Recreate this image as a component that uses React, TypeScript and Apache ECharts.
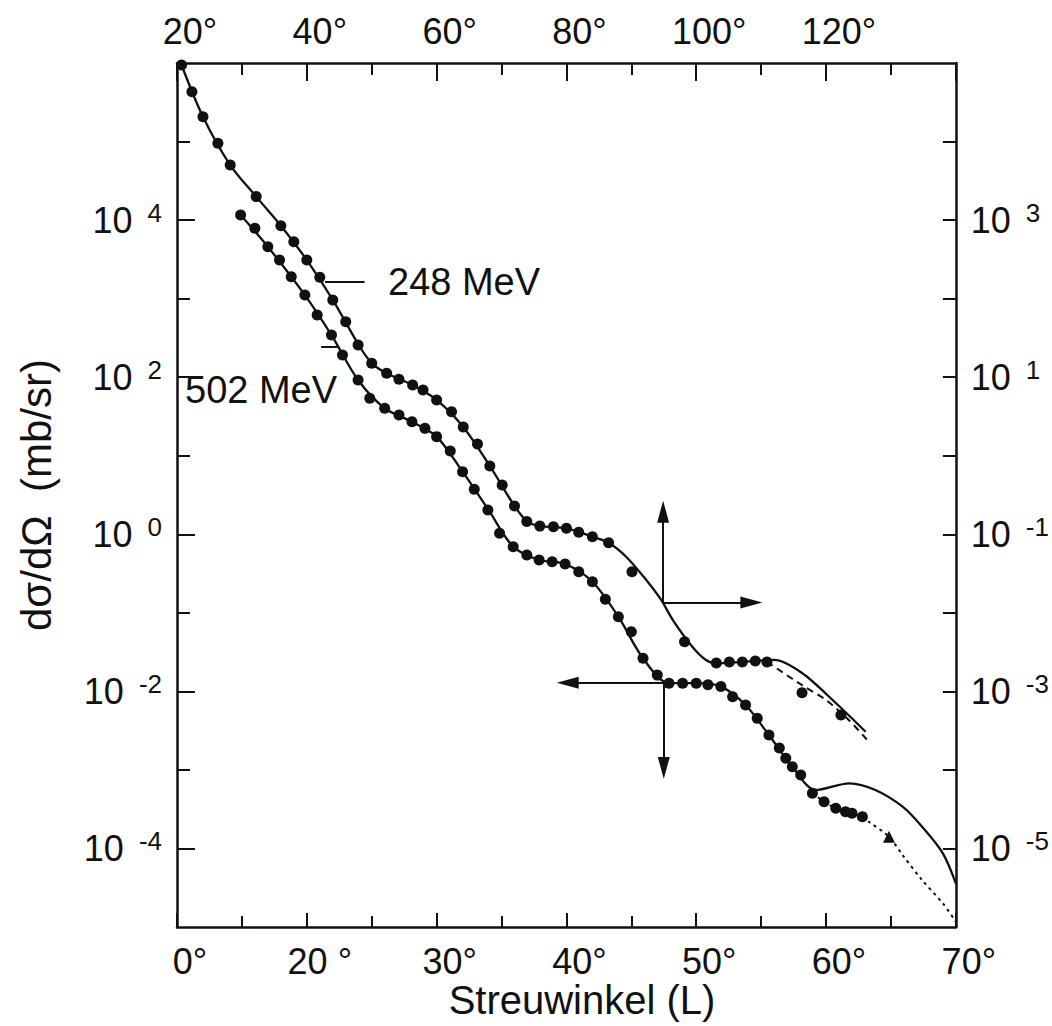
import React, { useEffect, useRef } from "react";
import * as echarts from "echarts";

const FONT = "'Liberation Sans', Arial, Helvetica, sans-serif";
const INK = "#111111";

// ---- axes ----
const bottomTickValues = [10, 20, 30, 40, 50, 60, 70];
const bottomTickLabels = ["0°", "20 °", "30°", "40°", "50°", "60°", "70°"];
const topTickValues = [20, 40, 60, 80, 100, 120];
const topTickLabels = ["20°", "40°", "60°", "80°", "100°", "120°"];
const leftExponents = [-4, -2, 0, 2, 4];
const rightExponents = [-5, -3, -1, 1, 3];

// ---- 248 MeV (top angle axis, right cross-section axis) ----
const angle248 = [20.7, 22.3, 24.0, 26.3, 28.2, 32.2, 36.0, 38.0, 40.0, 42.0, 44.0, 46.0, 47.9, 50.0, 52.3, 54.2, 56.3, 57.9, 60.0, 62.3, 64.1, 66.3, 68.2, 70.1, 72.0, 73.9, 75.9, 78.0, 80.0, 81.9, 84.0, 86.5, 90.1, 98.2, 103.1, 105.1, 107.1, 109.1, 110.9, 116.3, 122.3];
const xsec248 = [94400, 43150, 20700, 9510, 5020, 1990, 849, 531, 310, 187, 96.2, 50.9, 25.7, 15.0, 11.2, 9.40, 7.96, 6.87, 5.13, 3.64, 2.32, 1.41, 0.740, 0.424, 0.229, 0.145, 0.127, 0.125, 0.119, 0.106, 0.0931, 0.0782, 0.0334, 0.00429, 0.00230, 0.00237, 0.00237, 0.00244, 0.00237, 0.000962, 0.000500];

const fitAngle248 = [20.7, 24.0, 28.2, 32.2, 36.0, 40.0, 44.0, 48.0, 50.0, 52.3, 56.3, 60.0, 64.1, 68.2, 72.0, 74.0, 76.0, 80.0, 84.0, 86.5, 89.2, 92.3, 94.6, 96.4, 99.4, 101.5, 103.0, 107.0, 112.0, 116.3, 121.5, 126.1];
const fitXsec248 = [94400, 20700, 5020, 1990, 849, 310, 96.2, 25.7, 15.1, 11.2, 7.94, 5.13, 2.32, 0.740, 0.229, 0.145, 0.127, 0.119, 0.0931, 0.0782, 0.0518, 0.0262, 0.0146, 0.00809, 0.00371, 0.00251, 0.00228, 0.00237, 0.00251, 0.00171, 0.000711, 0.000306];

const dashAngle248 = [110.9, 116.3, 120.0, 123.5, 126.5];
const dashXsec248 = [0.00237, 0.00120, 0.000776, 0.000432, 0.000233];

// ---- 502 MeV (bottom angle axis, left cross-section axis) ----
const angle502 = [14.9, 16.0, 17.0, 17.9, 18.8, 19.85, 20.8, 21.9, 22.75, 23.95, 24.85, 26.0, 27.1, 28.1, 29.1, 30.0, 31.05, 32.0, 32.9, 33.95, 34.85, 35.9, 36.95, 37.9, 38.9, 39.9, 40.95, 42.0, 43.0, 44.0, 45.0, 45.9, 47.0, 47.9, 48.95, 50.0, 50.9, 51.9, 52.8, 53.8, 54.7, 55.6, 56.4, 56.9, 57.4, 58.05, 58.95, 59.85, 60.75, 61.5, 62.0, 62.8];
const xsec502 = [11610, 7870, 4580, 3100, 1900, 1110, 619, 344, 191, 92.0, 53.8, 40.2, 33.0, 27.1, 22.3, 17.5, 11.5, 6.27, 3.74, 2.04, 1.03, 0.695, 0.545, 0.470, 0.448, 0.419, 0.334, 0.249, 0.149, 0.0893, 0.0575, 0.0264, 0.0161, 0.0127, 0.0127, 0.0127, 0.0121, 0.0115, 0.00855, 0.00670, 0.00454, 0.00278, 0.00190, 0.00141, 0.00110, 0.000861, 0.000504, 0.000394, 0.000324, 0.000294, 0.000280, 0.000254];
const triangleAngle502 = [64.85];
const triangleXsec502 = [0.000141];

const fitAngle502 = [14.9, 17.0, 19.85, 21.9, 23.95, 26.0, 28.1, 30.0, 32.0, 34.0, 35.9, 37.9, 39.9, 42.0, 44.0, 45.9, 47.9, 50.0, 51.9, 53.8, 55.6, 57.4, 59.2, 61.8, 63.8, 65.9, 67.4, 69.0, 70.0];
const fitXsec502 = [11610, 4580, 1110, 344, 92.0, 40.2, 27.1, 17.5, 6.27, 2.04, 0.695, 0.470, 0.419, 0.249, 0.0893, 0.0264, 0.0127, 0.0127, 0.0115, 0.00670, 0.00278, 0.00110, 0.000555, 0.000675, 0.000555, 0.000340, 0.000189, 0.0000867, 0.0000360];

const dashAngle502 = [58.95, 59.85, 60.75, 61.5, 62.8, 63.3, 64.85, 65.9, 67.4, 69.0, 70.0];
const dashXsec502 = [0.000504, 0.000394, 0.000324, 0.000294, 0.000254, 0.000219, 0.000141, 0.0000824, 0.0000396, 0.0000200, 0.0000117];

// ---- annotation anchors (data units) ----
const cross502 = { angle: 47.5, xsec: 0.0129, leftTo: 40.1, downTo: 0.00106 };
const cross248 = { angle: 94.9, xsec: 0.0135, rightTo: 108.5, upTo: 0.194 };
const leader248 = { from: 42.8, to: 48.9, xsec: 163 };
const leader502 = { from: 21.1, to: 22.5, xsec: 244 };

const lg = (v: number) => Math.log10(v);
const pairs = (xs: number[], ys: number[]) => xs.map((x, i) => [x, lg(ys[i])]);

const supLabel = (e: number) => `{b|10}{s|${e}}`;
const rich = {
  b: { fontSize: 36, fontFamily: FONT, color: INK, lineHeight: 40 },
  s: { fontSize: 26, fontFamily: FONT, color: INK, verticalAlign: "top", lineHeight: 30, padding: [0, 0, 0, 15] },
};

export default function App() {
  const ref = useRef<HTMLDivElement>(null);
  useEffect(() => {
    if (!ref.current) return;
    const chart = echarts.init(ref.current, null, { renderer: "svg" });
    const axisLine = { show: true, onZero: false, lineStyle: { color: INK, width: 2.5 } };
    const xLabelBase = { fontSize: 36, fontFamily: FONT, color: INK, padding: [0, 0, 0, 26] };
    const arrowLine = {
      silent: true,
      symbol: ["none", "triangle"],
      symbolSize: [12, 22],
      label: { show: false },
      lineStyle: { color: INK, width: 2, type: "solid", opacity: 1 },
      itemStyle: { color: INK },
      emphasis: { disabled: true },
    };
    const leaderLine = {
      silent: true,
      symbol: ["none", "none"],
      label: { show: false },
      lineStyle: { color: INK, width: 2, type: "solid", opacity: 1 },
      emphasis: { disabled: true },
    };
    const textStyle = (text: string, size: number, align: string) => ({
      text, fontSize: size, fontFamily: FONT, fill: INK,
      align, verticalAlign: "middle", textAlign: align, textVerticalAlign: "middle",
    });
    chart.setOption({
      animation: false,
      backgroundColor: "#ffffff",
      textStyle: { fontFamily: FONT },
      grid: { left: 177, top: 63, right: 95, bottom: 99, containLabel: false },
      xAxis: [
        {
          type: "value", position: "bottom", min: 10, max: 70, interval: 10,
          axisLine, splitLine: { show: false },
          axisTick: { show: true, inside: true, length: 14, lineStyle: { color: INK, width: 2 } },
          minorTick: { show: true, splitNumber: 2, length: 11, lineStyle: { color: INK, width: 2 } },
          axisLabel: {
            ...xLabelBase, margin: 16, showMinLabel: true, showMaxLabel: true,
            formatter: (v: number) => { const i = bottomTickValues.indexOf(Math.round(v)); return i >= 0 ? bottomTickLabels[i] : ""; },
          },
        },
        {
          type: "value", position: "top", min: 20, max: 140, interval: 20,
          axisLine, splitLine: { show: false },
          axisTick: { show: true, inside: true, length: 18, lineStyle: { color: INK, width: 2 } },
          minorTick: { show: true, splitNumber: 2, length: 12, lineStyle: { color: INK, width: 2 } },
          axisLabel: {
            ...xLabelBase, margin: 14, showMinLabel: true, showMaxLabel: true,
            formatter: (v: number) => { const i = topTickValues.indexOf(Math.round(v)); return i >= 0 ? topTickLabels[i] : ""; },
          },
        },
      ],
      yAxis: [
        {
          type: "value", position: "left", min: -5, max: 6, interval: 1,
          axisLine, splitLine: { show: false },
          axisTick: { show: true, inside: true, length: 18, customValues: leftExponents, lineStyle: { color: INK, width: 2 } },
          axisLabel: {
            margin: 15, rich, customValues: leftExponents,
            formatter: (v: number) => { const e = Math.round(v); return leftExponents.includes(e) ? supLabel(e) : ""; },
          },
        },
        {
          type: "value", position: "right", min: -6, max: 5, interval: 1,
          axisLine, splitLine: { show: false },
          axisTick: { show: true, inside: true, length: 13, customValues: rightExponents, lineStyle: { color: INK, width: 2 } },
          axisLabel: {
            margin: 15, rich, customValues: rightExponents,
            formatter: (v: number) => { const e = Math.round(v); return rightExponents.includes(e) ? supLabel(e) : ""; },
          },
        },
        {
          type: "value", position: "left", min: -5, max: 6, interval: 1,
          axisLine: { show: false }, splitLine: { show: false }, axisLabel: { show: false },
          axisTick: { show: true, inside: true, length: 13, customValues: [-3, -1, 1, 3, 5], lineStyle: { color: INK, width: 2 } },
        },
        {
          type: "value", position: "right", min: -6, max: 5, interval: 1,
          axisLine: { show: false }, splitLine: { show: false }, axisLabel: { show: false },
          axisTick: { show: true, inside: true, length: 13, customValues: [-4, -2, 0, 2, 4], lineStyle: { color: INK, width: 2 } },
        },
      ],
      series: [
        {
          name: "248 MeV fit", type: "line", xAxisIndex: 1, yAxisIndex: 1, smooth: 0.3,
          showSymbol: false, symbol: "none", lineStyle: { color: INK, width: 2.3 },
          data: pairs(fitAngle248, fitXsec248), silent: true,
          markLine: {
            ...leaderLine,
            data: [[{ coord: [leader248.from, lg(leader248.xsec)] }, { coord: [leader248.to, lg(leader248.xsec)] }]],
          },
        },
        {
          name: "248 MeV dashed", type: "line", xAxisIndex: 1, yAxisIndex: 1, smooth: 0.3,
          showSymbol: false, symbol: "none", lineStyle: { color: INK, width: 2, type: [7, 5] },
          data: pairs(dashAngle248, dashXsec248), silent: true,
        },
        {
          name: "248 MeV", type: "scatter", xAxisIndex: 1, yAxisIndex: 1, symbol: "circle", symbolSize: 11,
          itemStyle: { color: INK, opacity: 1 }, data: pairs(angle248, xsec248), silent: true,
          markLine: {
            ...arrowLine,
            data: [
              [{ coord: [cross248.angle, lg(cross248.xsec)] }, { coord: [cross248.angle, lg(cross248.upTo)] }],
              [{ coord: [cross248.angle, lg(cross248.xsec)] }, { coord: [cross248.rightTo, lg(cross248.xsec)] }],
            ],
          },
        },
        {
          name: "502 MeV fit", type: "line", xAxisIndex: 0, yAxisIndex: 0, smooth: 0.3,
          showSymbol: false, symbol: "none", lineStyle: { color: INK, width: 2.3 },
          data: pairs(fitAngle502, fitXsec502), silent: true,
          markLine: {
            ...leaderLine,
            data: [[{ coord: [leader502.from, lg(leader502.xsec)] }, { coord: [leader502.to, lg(leader502.xsec)] }]],
          },
        },
        {
          name: "502 MeV dashed", type: "line", xAxisIndex: 0, yAxisIndex: 0, smooth: 0.3,
          showSymbol: false, symbol: "none", lineStyle: { color: INK, width: 2, type: [3, 4] },
          data: pairs(dashAngle502, dashXsec502), silent: true,
        },
        {
          name: "502 MeV", type: "scatter", xAxisIndex: 0, yAxisIndex: 0, symbol: "circle", symbolSize: 11,
          itemStyle: { color: INK, opacity: 1 }, data: pairs(angle502, xsec502), silent: true,
          markLine: {
            ...arrowLine,
            data: [
              [{ coord: [cross502.angle, lg(cross502.xsec)] }, { coord: [cross502.leftTo, lg(cross502.xsec)] }],
              [{ coord: [cross502.angle, lg(cross502.xsec)] }, { coord: [cross502.angle, lg(cross502.downTo)] }],
            ],
          },
        },
        {
          name: "502 MeV triangle", type: "scatter", xAxisIndex: 0, yAxisIndex: 0, symbol: "triangle", symbolSize: 12,
          itemStyle: { color: INK, opacity: 1 }, data: pairs(triangleAngle502, triangleXsec502), silent: true,
        },
      ],
      graphic: [
        { type: "text", x: 388, y: 282, style: textStyle("248 MeV", 38, "left") },
        { type: "text", x: 185, y: 390, style: textStyle("502 MeV", 38, "left") },
        { type: "text", x: 582, y: 1000, style: textStyle("Streuwinkel (L)", 40, "center") },
        { type: "text", x: 36, y: 495, rotation: Math.PI / 2, style: textStyle("dσ/dΩ  (mb/sr)", 42, "center") },
      ],
    });
    return () => chart.dispose();
  }, []);
  return <div ref={ref} style={{ position: "fixed", left: 0, top: 0, width: 1052, height: 1026, background: "#fff" }} />;
}
